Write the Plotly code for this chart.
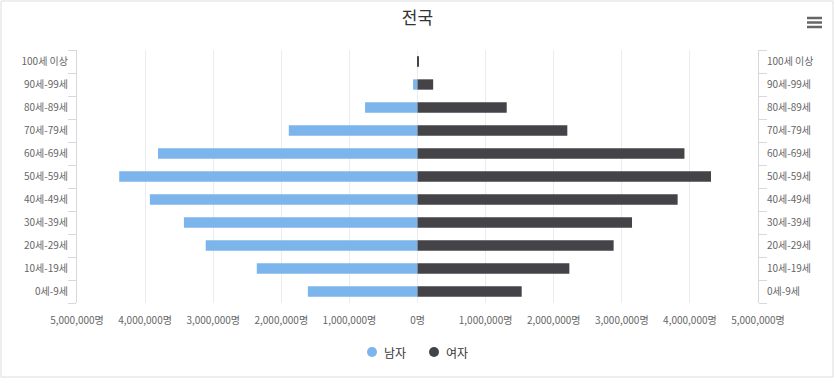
import plotly.graph_objects as go

categories = ["0세-9세", "10세-19세", "20세-29세", "30세-39세", "40세-49세",
              "50세-59세", "60세-69세", "70세-79세", "80세-89세", "90세-99세", "100세 이상"]
male = [1610000, 2360000, 3110000, 3430000, 3930000, 4380000, 3810000, 1890000, 770000, 65000, 4000]
female = [1530000, 2230000, 2880000, 3150000, 3820000, 4310000, 3920000, 2200000, 1310000, 230000, 17000]
tick_vals = [-5000000, -4000000, -3000000, -2000000, -1000000, 0,
             1000000, 2000000, 3000000, 4000000, 5000000]
tick_text = [f"{abs(v):,}명" for v in tick_vals]
series_names = ["남자", "여자"]

FONT = "Noto Sans CJK KR"
MALE_C = "#7cb5ec"
FEMALE_C = "#434348"

# plot area geometry in pixels
L, R, T, B = 77, 77, 50, 80
W, H = 835, 383
PW, PH = W - L - R, H - T - B


def px(x):
    return (x - L) / PW


def py(y):
    return (H - B - y) / PH


fig = go.Figure()
fig.add_trace(go.Bar(y=categories, x=[-v for v in male], orientation="h", name=series_names[0],
                     marker=dict(color=MALE_C, line=dict(width=0)), width=0.45,
                     showlegend=False, hoverinfo="skip"))
fig.add_trace(go.Bar(y=categories, x=female, orientation="h", name=series_names[1],
                     marker=dict(color=FEMALE_C, line=dict(width=0)), width=0.45,
                     yaxis="y2", showlegend=False, hoverinfo="skip"))

yax = dict(type="category", categoryorder="array", categoryarray=categories,
           range=[-0.5, len(categories) - 0.5], showgrid=False, zeroline=False,
           showline=True, linecolor="#d8d8d8", linewidth=1, automargin=False,
           ticks="outside", tickson="boundaries", ticklen=8, tickcolor="#d8d8d8",
           ticklabelstandoff=6,
           tickfont=dict(family=FONT, size=10, color="#666666"), fixedrange=True)

shapes = [dict(type="rect", xref="paper", yref="paper", x0=px(1), x1=px(833),
               y0=py(377), y1=py(1), line=dict(color="#dddddd", width=1), layer="below")]
# menu icon
for yy in (18, 22.5, 27):
    shapes.append(dict(type="line", xref="paper", yref="paper", x0=px(807), x1=px(822),
                       y0=py(yy), y1=py(yy), line=dict(color="#666666", width=2.5)))
# legend symbols
annotations = []
legend_items = [(372, MALE_C, series_names[0]), (434, FEMALE_C, series_names[1])]
for cx, col, name in legend_items:
    shapes.append(dict(type="circle", xref="paper", yref="paper",
                       x0=px(cx - 5), x1=px(cx + 5), y0=py(357), y1=py(347),
                       fillcolor=col, line=dict(width=0)))
    annotations.append(dict(text=name, xref="paper", yref="paper", x=px(cx + 10), y=py(352),
                            xanchor="left", yanchor="middle", showarrow=False,
                            font=dict(family=FONT, size=12, color="#333333")))

fig.update_layout(
    width=W, height=H,
    margin=dict(l=L, r=R, t=T, b=B, autoexpand=False),
    paper_bgcolor="white", plot_bgcolor="white",
    barmode="overlay", showlegend=False,
    font=dict(family=FONT, color="#333333"),
    title=dict(text="전국", x=0.5, xanchor="center", y=1 - 18 / H, yanchor="middle",
               font=dict(family=FONT, size=17, color="#333333")),
    xaxis=dict(range=[-5000000, 5000000], tickvals=tick_vals, ticktext=tick_text,
               showgrid=True, gridcolor="#ececec", gridwidth=1, zeroline=False,
               showline=False, ticks="", ticklabelstandoff=10, automargin=False,
               tickfont=dict(family=FONT, size=10, color="#666666"), fixedrange=True),
    yaxis=dict(**yax, side="left"),
    yaxis2=dict(**yax, side="right", overlaying="y"),
    shapes=shapes,
    annotations=annotations,
)

fig.write_html("out.html", config={"displayModeBar": False},
               post_script="document.body.style.margin='0';document.body.style.overflow='hidden';")
